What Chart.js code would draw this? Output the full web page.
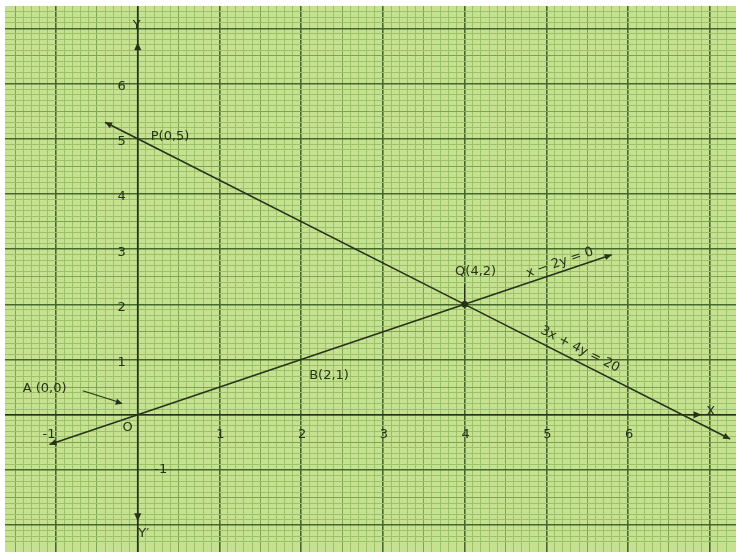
<!DOCTYPE html>
<html>
<head>
<meta charset="utf-8">
<script src="https://cdn.jsdelivr.net/npm/chart.js@4.4.0/dist/chart.umd.min.js"></script>
<style>
  html, body { margin: 0; padding: 0; background: #fff; }
  #wrap { width: 741px; height: 557px; }
</style>
</head>
<body>
<div id="wrap"><canvas id="graph"></canvas></div>
<script>
// x - 2y = 0
const lineAx = [-1.08, 0, 2, 4, 5.8];
const lineAy = [-0.54, 0, 1, 2, 2.9];
// 3x + 4y = 20
const lineBx = [-0.4, 0, 4, 7.25];
const lineBy = [5.3, 5, 2, -0.44];

const xTickLabels = [-1, 1, 2, 3, 4, 5, 6];
const yTickLabels = [-1, 1, 2, 3, 4, 5, 6];

const pointNames = ["P(0,5)", "Q(4,2)", "B(2,1)", "A (0,0)"];
const pointX = [0, 4, 2, 0];
const pointY = [5, 2, 1, 0];

const lineNames = ["x \u2212 2y = 0", "3x + 4y = 20"];

const INK = "#263219";
const FONT = "13px 'DejaVu Sans'";

function gridColor(c) {
    const v = c.tick.value;
    const t = Math.round(v * 10);
    if (Math.abs(v * 10 - t) > 1e-6) return "rgba(0,0,0,0)";
    if (t % 10 === 0) return "#45692a";
    if (t % 5 === 0) return "#7ea650";
    return "#9cc268";
}

function gridWidth(c) {
    const t = Math.round(c.tick.value * 10);
    return t % 10 === 0 ? 1.6 : 1;
}

function arrowHead(ctx, x, y, angle, size) {
    ctx.save();
    ctx.translate(x, y);
    ctx.rotate(angle);
    ctx.beginPath();
    ctx.moveTo(0, 0);
    ctx.lineTo(-size, -size * 0.45);
    ctx.lineTo(-size, size * 0.45);
    ctx.closePath();
    ctx.fill();
    ctx.restore();
}

const paper = {
    id: "paper",
    beforeDraw(chart) {
        const { ctx, chartArea: a } = chart;
        ctx.save();
        ctx.fillStyle = "#ffffff";
        ctx.fillRect(0, 0, chart.width, chart.height);
        ctx.fillStyle = "#c6e192";
        ctx.fillRect(a.left, a.top, a.right - a.left, a.bottom - a.top);
        ctx.restore();
    },
    afterDatasetsDraw(chart) {
        const { ctx, scales } = chart;
        const px = (v) => scales.x.getPixelForValue(v);
        const py = (v) => scales.y.getPixelForValue(v);
        const ox = px(0);
        const oy = py(0);

        ctx.save();
        ctx.strokeStyle = INK;
        ctx.fillStyle = INK;

        // axes
        ctx.lineWidth = 1.6;
        ctx.beginPath();
        ctx.moveTo(chart.chartArea.left, oy);
        ctx.lineTo(chart.chartArea.right, oy);
        ctx.moveTo(ox, chart.chartArea.top);
        ctx.lineTo(ox, chart.chartArea.bottom);
        ctx.stroke();
        arrowHead(ctx, ox, py(6.75), -Math.PI / 2, 8);
        arrowHead(ctx, ox, py(-1.93), Math.PI / 2, 8);
        arrowHead(ctx, px(6.9), oy, 0, 8);

        // ends of the two lines
        [[lineAx, lineAy], [lineBx, lineBy]].forEach(([xs, ys]) => {
            const n = xs.length;
            const a0 = Math.atan2(py(ys[0]) - py(ys[1]), px(xs[0]) - px(xs[1]));
            const a1 = Math.atan2(py(ys[n - 1]) - py(ys[n - 2]), px(xs[n - 1]) - px(xs[n - 2]));
            arrowHead(ctx, px(xs[0]), py(ys[0]), a0, 7);
            arrowHead(ctx, px(xs[n - 1]), py(ys[n - 1]), a1, 7);
        });

        ctx.font = FONT;
        ctx.textBaseline = "middle";

        // tick numbers
        ctx.textAlign = "center";
        xTickLabels.forEach((v) => {
            ctx.fillText(String(v), px(v) + (v < 0 ? -7 : 1), oy + 20);
        });
        yTickLabels.forEach((v) => {
            if (v < 0) ctx.fillText(String(v), ox + 23, py(v));
            else ctx.fillText(String(v), ox - 16, py(v) + 3);
        });
        ctx.fillText("O", ox - 10, oy + 13);
        ctx.fillText("Y", ox - 1, py(6.75) - 17);
        ctx.fillText("Y\u2032", ox + 6, py(-1.93) + 12);
        ctx.fillText("X", px(6.9) + 9, oy - 3);

        // point names
        const offs = [[13, -2, "left"], [11, -33, "center"], [8, 16, "left"], [-115, -26, "left"]];
        pointNames.forEach((name, i) => {
            const [dx, dy, al] = offs[i];
            ctx.textAlign = al;
            ctx.fillText(name, px(pointX[i]) + dx, py(pointY[i]) + dy);
        });

        // Q pointer
        ctx.lineWidth = 1.2;
        ctx.beginPath();
        ctx.moveTo(px(4), py(2) - 2);
        ctx.lineTo(px(4), py(2) - 20);
        ctx.stroke();

        // A pointer
        ctx.beginPath();
        ctx.moveTo(ox - 55, oy - 24);
        ctx.lineTo(ox - 17, oy - 12);
        ctx.stroke();
        arrowHead(ctx, ox - 15, oy - 11, Math.atan2(12, 38), 7);

        // equation labels along the lines
        const along = [[lineAx, lineAy, 0.667, -9], [lineBx, lineBy, 0.414, -12]];
        along.forEach(([xs, ys, t, off], i) => {
            const n = xs.length;
            const x1 = px(xs[n - 2]), y1 = py(ys[n - 2]);
            const x2 = px(xs[n - 1]), y2 = py(ys[n - 1]);
            const ang = Math.atan2(y2 - y1, x2 - x1);
            ctx.save();
            ctx.translate(x1 + (x2 - x1) * t, y1 + (y2 - y1) * t);
            ctx.rotate(ang);
            ctx.textAlign = "center";
            ctx.fillText(lineNames[i], 0, off);
            ctx.restore();
        });

        ctx.restore();
    },
};

const toPoints = (xs, ys) => xs.map((x, i) => ({ x, y: ys[i] }));

new Chart(document.getElementById("graph").getContext("2d"), {
    type: "scatter",
    data: {
        datasets: [
            {
                data: toPoints(lineAx, lineAy),
                showLine: true,
                borderColor: INK,
                borderWidth: 1.6,
                pointRadius: 0,
            },
            {
                data: toPoints(lineBx, lineBy),
                showLine: true,
                borderColor: INK,
                borderWidth: 1.6,
                pointRadius: 0,
            },
            {
                data: toPoints(pointX, pointY),
                showLine: false,
                pointRadius: [0, 3, 0, 0],
                backgroundColor: INK,
                borderColor: INK,
            },
        ],
    },
    options: {
        responsive: true,
        maintainAspectRatio: false,
        animation: false,
        layout: { padding: { top: 6, left: 1, right: 0, bottom: 2 } },
        plugins: {
            legend: { display: false },
            tooltip: { enabled: false },
        },
        scales: {
            x: {
                type: "linear",
                min: -1.624,
                max: 7.321,
                ticks: { display: false, stepSize: 0.1, autoSkip: false },
                grid: { color: gridColor, lineWidth: gridWidth, drawTicks: false },
                border: { display: false },
            },
            y: {
                type: "linear",
                min: -2.486,
                max: 7.405,
                ticks: { display: false, stepSize: 0.1, autoSkip: false },
                grid: { color: gridColor, lineWidth: gridWidth, drawTicks: false },
                border: { display: false },
            },
        },
    },
    plugins: [paper],
});
</script>
</body>
</html>
